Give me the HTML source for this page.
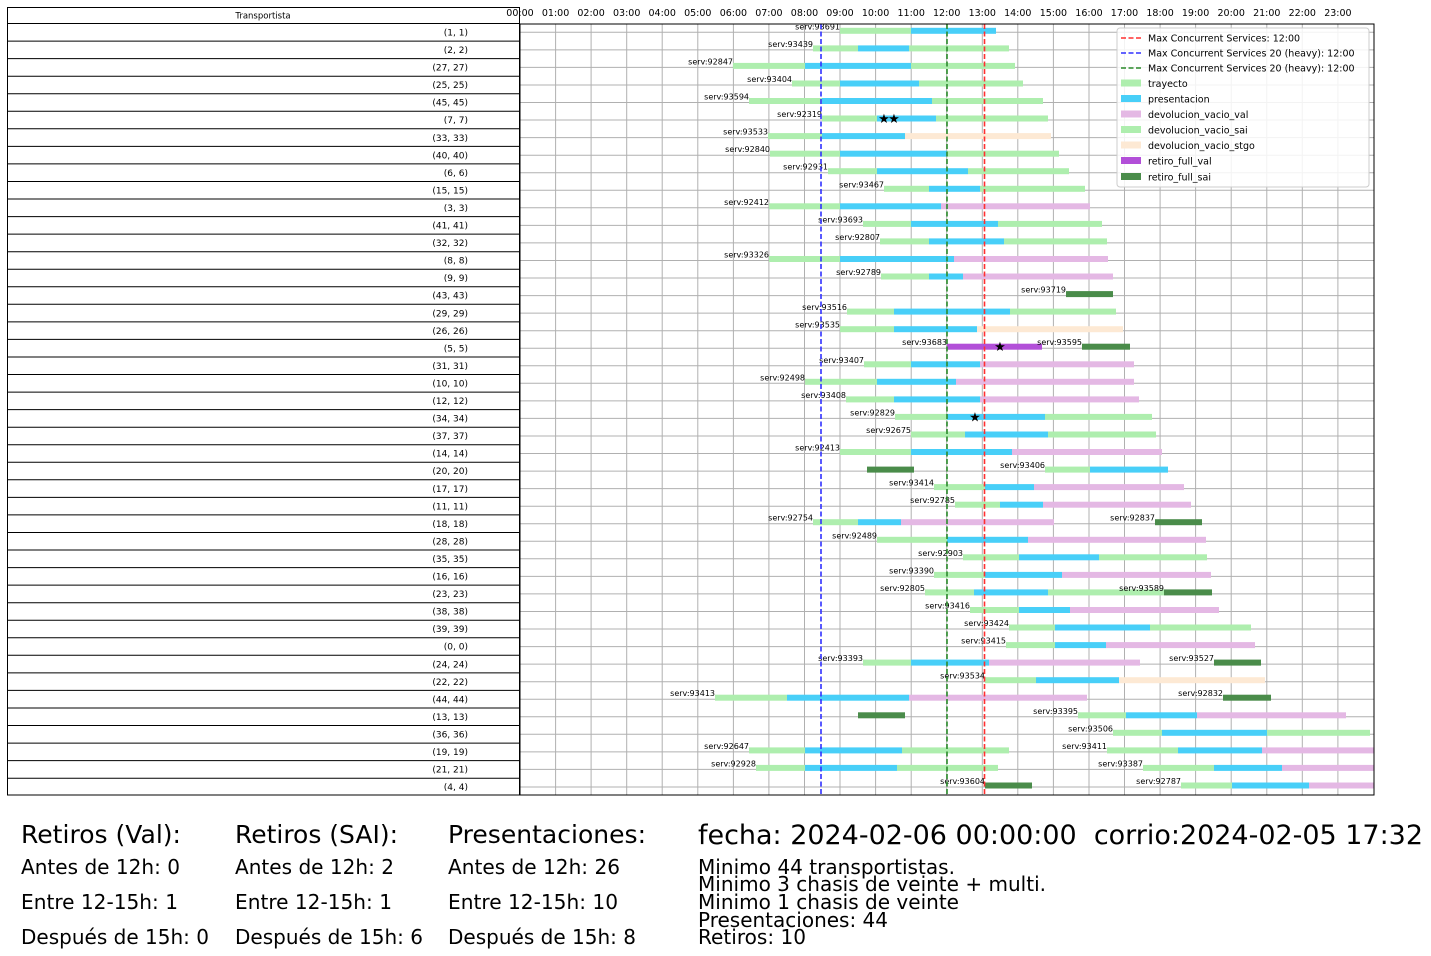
<!DOCTYPE html>
<html><head><meta charset="utf-8"><style>
html,body{margin:0;padding:0;background:#fff;}
svg{display:block;font-family:"DejaVu Sans","Liberation Sans",sans-serif;}
.g{fill:#aeeeae}.b{fill:#48cff8}.v{fill:#e4b8e4}.s{fill:#fde9d4}.p{fill:#b24fd8}.k{fill:#4a8c4a}
.l{font-size:8px;text-anchor:end}
.r{font-size:9px;text-anchor:end}
.t{font-size:9.5px;text-anchor:middle}
</style></head><body>
<svg width="1431" height="956" viewBox="0 0 1431 956" xmlns="http://www.w3.org/2000/svg">
<rect width="1431" height="956" fill="#fff"/>
<!-- grid -->
<g stroke="#b0b0b0" stroke-width="1">
<line x1="555.6" y1="24" x2="555.6" y2="795"/><line x1="591.1" y1="24" x2="591.1" y2="795"/><line x1="626.7" y1="24" x2="626.7" y2="795"/><line x1="662.2" y1="24" x2="662.2" y2="795"/><line x1="697.8" y1="24" x2="697.8" y2="795"/><line x1="733.4" y1="24" x2="733.4" y2="795"/><line x1="768.9" y1="24" x2="768.9" y2="795"/><line x1="804.5" y1="24" x2="804.5" y2="795"/><line x1="840" y1="24" x2="840" y2="795"/><line x1="875.6" y1="24" x2="875.6" y2="795"/><line x1="911.2" y1="24" x2="911.2" y2="795"/><line x1="946.7" y1="24" x2="946.7" y2="795"/><line x1="982.3" y1="24" x2="982.3" y2="795"/><line x1="1017.8" y1="24" x2="1017.8" y2="795"/><line x1="1053.4" y1="24" x2="1053.4" y2="795"/><line x1="1089" y1="24" x2="1089" y2="795"/><line x1="1124.5" y1="24" x2="1124.5" y2="795"/><line x1="1160.1" y1="24" x2="1160.1" y2="795"/><line x1="1195.6" y1="24" x2="1195.6" y2="795"/><line x1="1231.2" y1="24" x2="1231.2" y2="795"/><line x1="1266.8" y1="24" x2="1266.8" y2="795"/><line x1="1302.3" y1="24" x2="1302.3" y2="795"/><line x1="1337.9" y1="24" x2="1337.9" y2="795"/>
<line x1="520" y1="32.3" x2="1374" y2="32.3"/><line x1="520" y1="49.9" x2="1374" y2="49.9"/><line x1="520" y1="67.4" x2="1374" y2="67.4"/><line x1="520" y1="85" x2="1374" y2="85"/><line x1="520" y1="102.5" x2="1374" y2="102.5"/><line x1="520" y1="120" x2="1374" y2="120"/><line x1="520" y1="137.6" x2="1374" y2="137.6"/><line x1="520" y1="155.2" x2="1374" y2="155.2"/><line x1="520" y1="172.7" x2="1374" y2="172.7"/><line x1="520" y1="190.3" x2="1374" y2="190.3"/><line x1="520" y1="207.8" x2="1374" y2="207.8"/><line x1="520" y1="225.4" x2="1374" y2="225.4"/><line x1="520" y1="242.9" x2="1374" y2="242.9"/><line x1="520" y1="260.5" x2="1374" y2="260.5"/><line x1="520" y1="278" x2="1374" y2="278"/><line x1="520" y1="295.6" x2="1374" y2="295.6"/><line x1="520" y1="313.1" x2="1374" y2="313.1"/><line x1="520" y1="330.7" x2="1374" y2="330.7"/><line x1="520" y1="348.2" x2="1374" y2="348.2"/><line x1="520" y1="365.8" x2="1374" y2="365.8"/><line x1="520" y1="383.3" x2="1374" y2="383.3"/><line x1="520" y1="400.9" x2="1374" y2="400.9"/><line x1="520" y1="418.4" x2="1374" y2="418.4"/><line x1="520" y1="436" x2="1374" y2="436"/><line x1="520" y1="453.5" x2="1374" y2="453.5"/><line x1="520" y1="471.1" x2="1374" y2="471.1"/><line x1="520" y1="488.6" x2="1374" y2="488.6"/><line x1="520" y1="506.2" x2="1374" y2="506.2"/><line x1="520" y1="523.7" x2="1374" y2="523.7"/><line x1="520" y1="541.3" x2="1374" y2="541.3"/><line x1="520" y1="558.8" x2="1374" y2="558.8"/><line x1="520" y1="576.4" x2="1374" y2="576.4"/><line x1="520" y1="593.9" x2="1374" y2="593.9"/><line x1="520" y1="611.5" x2="1374" y2="611.5"/><line x1="520" y1="629" x2="1374" y2="629"/><line x1="520" y1="646.6" x2="1374" y2="646.6"/><line x1="520" y1="664.1" x2="1374" y2="664.1"/><line x1="520" y1="681.7" x2="1374" y2="681.7"/><line x1="520" y1="699.2" x2="1374" y2="699.2"/><line x1="520" y1="716.8" x2="1374" y2="716.8"/><line x1="520" y1="734.3" x2="1374" y2="734.3"/><line x1="520" y1="751.9" x2="1374" y2="751.9"/><line x1="520" y1="769.4" x2="1374" y2="769.4"/><line x1="520" y1="787" x2="1374" y2="787"/>
</g>
<!-- hour labels -->
<g font-size="9.5" text-anchor="middle" fill="#000">
<text x="520" y="16">00:00</text><text x="555.6" y="16">01:00</text><text x="591.1" y="16">02:00</text><text x="626.7" y="16">03:00</text><text x="662.2" y="16">04:00</text><text x="697.8" y="16">05:00</text><text x="733.4" y="16">06:00</text><text x="768.9" y="16">07:00</text><text x="804.5" y="16">08:00</text><text x="840" y="16">09:00</text><text x="875.6" y="16">10:00</text><text x="911.2" y="16">11:00</text><text x="946.7" y="16">12:00</text><text x="982.3" y="16">13:00</text><text x="1017.8" y="16">14:00</text><text x="1053.4" y="16">15:00</text><text x="1089" y="16">16:00</text><text x="1124.5" y="16">17:00</text><text x="1160.1" y="16">18:00</text><text x="1195.6" y="16">19:00</text><text x="1231.2" y="16">20:00</text><text x="1266.8" y="16">21:00</text><text x="1302.3" y="16">22:00</text><text x="1337.9" y="16">23:00</text>
</g>
<!-- bars -->
<g>
<g transform="translate(0,32.3)"><rect class="g" x="840" y="-4.5" width="71" height="6"/><rect class="b" x="911" y="-4.5" width="85" height="6"/><text class="l" x="840" y="-3">serv:93691</text></g>
<g transform="translate(0,49.9)"><rect class="g" x="813" y="-4.5" width="45" height="6"/><rect class="b" x="858" y="-4.5" width="51" height="6"/><rect class="g" x="909" y="-4.5" width="100" height="6"/><text class="l" x="813" y="-3">serv:93439</text></g>
<g transform="translate(0,67.4)"><rect class="g" x="733" y="-4.5" width="72" height="6"/><rect class="b" x="805" y="-4.5" width="106" height="6"/><rect class="g" x="911" y="-4.5" width="104" height="6"/><text class="l" x="733" y="-3">serv:92847</text></g>
<g transform="translate(0,85)"><rect class="g" x="792" y="-4.5" width="48" height="6"/><rect class="b" x="840" y="-4.5" width="79" height="6"/><rect class="g" x="919" y="-4.5" width="104" height="6"/><text class="l" x="792" y="-3">serv:93404</text></g>
<g transform="translate(0,102.5)"><rect class="g" x="749" y="-4.5" width="73" height="6"/><rect class="b" x="822" y="-4.5" width="110" height="6"/><rect class="g" x="932" y="-4.5" width="111" height="6"/><text class="l" x="749" y="-3">serv:93594</text></g>
<g transform="translate(0,120)"><rect class="g" x="822" y="-4.5" width="55" height="6"/><rect class="b" x="877" y="-4.5" width="59" height="6"/><rect class="g" x="936" y="-4.5" width="112" height="6"/><text class="l" x="822" y="-3">serv:92319</text><text x="884" y="3" font-size="13" text-anchor="middle">★</text><text x="894" y="3" font-size="13" text-anchor="middle">★</text></g>
<g transform="translate(0,137.6)"><rect class="g" x="768" y="-4.5" width="54" height="6"/><rect class="b" x="822" y="-4.5" width="83" height="6"/><rect class="s" x="905" y="-4.5" width="146" height="6"/><text class="l" x="768" y="-3">serv:93533</text></g>
<g transform="translate(0,155.2)"><rect class="g" x="770" y="-4.5" width="70" height="6"/><rect class="b" x="840" y="-4.5" width="107" height="6"/><rect class="g" x="947" y="-4.5" width="112" height="6"/><text class="l" x="770" y="-3">serv:92840</text></g>
<g transform="translate(0,172.7)"><rect class="g" x="828" y="-4.5" width="49" height="6"/><rect class="b" x="877" y="-4.5" width="91" height="6"/><rect class="g" x="968" y="-4.5" width="101" height="6"/><text class="l" x="828" y="-3">serv:92931</text></g>
<g transform="translate(0,190.3)"><rect class="g" x="884" y="-4.5" width="45" height="6"/><rect class="b" x="929" y="-4.5" width="51" height="6"/><rect class="g" x="980" y="-4.5" width="105" height="6"/><text class="l" x="884" y="-3">serv:93467</text></g>
<g transform="translate(0,207.8)"><rect class="g" x="769" y="-4.5" width="71" height="6"/><rect class="b" x="840" y="-4.5" width="101" height="6"/><rect class="v" x="941" y="-4.5" width="149" height="6"/><text class="l" x="769" y="-3">serv:92412</text></g>
<g transform="translate(0,225.4)"><rect class="g" x="863" y="-4.5" width="48" height="6"/><rect class="b" x="911" y="-4.5" width="87" height="6"/><rect class="g" x="998" y="-4.5" width="104" height="6"/><text class="l" x="863" y="-3">serv:93693</text></g>
<g transform="translate(0,242.9)"><rect class="g" x="880" y="-4.5" width="49" height="6"/><rect class="b" x="929" y="-4.5" width="75" height="6"/><rect class="g" x="1004" y="-4.5" width="103" height="6"/><text class="l" x="880" y="-3">serv:92807</text></g>
<g transform="translate(0,260.5)"><rect class="g" x="769" y="-4.5" width="71" height="6"/><rect class="b" x="840" y="-4.5" width="114" height="6"/><rect class="v" x="954" y="-4.5" width="154" height="6"/><text class="l" x="769" y="-3">serv:93326</text></g>
<g transform="translate(0,278)"><rect class="g" x="881" y="-4.5" width="48" height="6"/><rect class="b" x="929" y="-4.5" width="34" height="6"/><rect class="v" x="963" y="-4.5" width="150" height="6"/><text class="l" x="881" y="-3">serv:92789</text></g>
<g transform="translate(0,295.6)"><rect class="k" x="1066" y="-4.5" width="47" height="6"/><text class="l" x="1066" y="-3">serv:93719</text></g>
<g transform="translate(0,313.1)"><rect class="g" x="847" y="-4.5" width="47" height="6"/><rect class="b" x="894" y="-4.5" width="116" height="6"/><rect class="g" x="1010" y="-4.5" width="106" height="6"/><text class="l" x="847" y="-3">serv:93516</text></g>
<g transform="translate(0,330.7)"><rect class="g" x="840" y="-4.5" width="54" height="6"/><rect class="b" x="894" y="-4.5" width="83" height="6"/><rect class="s" x="977" y="-4.5" width="146" height="6"/><text class="l" x="840" y="-3">serv:93535</text></g>
<g transform="translate(0,348.2)"><rect class="p" x="947" y="-4.5" width="95" height="6"/><text class="l" x="947" y="-3">serv:93683</text><text x="1000" y="3" font-size="13" text-anchor="middle">★</text><rect class="k" x="1082" y="-4.5" width="48" height="6"/><text class="l" x="1082" y="-3">serv:93595</text></g>
<g transform="translate(0,365.8)"><rect class="g" x="864" y="-4.5" width="47" height="6"/><rect class="b" x="911" y="-4.5" width="69" height="6"/><rect class="v" x="980" y="-4.5" width="154" height="6"/><text class="l" x="864" y="-3">serv:93407</text></g>
<g transform="translate(0,383.3)"><rect class="g" x="805" y="-4.5" width="72" height="6"/><rect class="b" x="877" y="-4.5" width="79" height="6"/><rect class="v" x="956" y="-4.5" width="178" height="6"/><text class="l" x="805" y="-3">serv:92498</text></g>
<g transform="translate(0,400.9)"><rect class="g" x="846" y="-4.5" width="48" height="6"/><rect class="b" x="894" y="-4.5" width="86" height="6"/><rect class="v" x="980" y="-4.5" width="159" height="6"/><text class="l" x="846" y="-3">serv:93408</text></g>
<g transform="translate(0,418.4)"><rect class="g" x="895" y="-4.5" width="52" height="6"/><rect class="b" x="947" y="-4.5" width="98" height="6"/><rect class="g" x="1045" y="-4.5" width="107" height="6"/><text class="l" x="895" y="-3">serv:92829</text><text x="975" y="3" font-size="13" text-anchor="middle">★</text></g>
<g transform="translate(0,436)"><rect class="g" x="911" y="-4.5" width="54" height="6"/><rect class="b" x="965" y="-4.5" width="83" height="6"/><rect class="g" x="1048" y="-4.5" width="108" height="6"/><text class="l" x="911" y="-3">serv:92675</text></g>
<g transform="translate(0,453.5)"><rect class="g" x="840" y="-4.5" width="71" height="6"/><rect class="b" x="911" y="-4.5" width="101" height="6"/><rect class="v" x="1012" y="-4.5" width="150" height="6"/><text class="l" x="840" y="-3">serv:92413</text></g>
<g transform="translate(0,471.1)"><rect class="k" x="867" y="-4.5" width="47" height="6"/><rect class="g" x="1045" y="-4.5" width="45" height="6"/><rect class="b" x="1090" y="-4.5" width="78" height="6"/><text class="l" x="1045" y="-3">serv:93406</text></g>
<g transform="translate(0,488.6)"><rect class="g" x="934" y="-4.5" width="51" height="6"/><rect class="b" x="985" y="-4.5" width="49" height="6"/><rect class="v" x="1034" y="-4.5" width="150" height="6"/><text class="l" x="934" y="-3">serv:93414</text></g>
<g transform="translate(0,506.2)"><rect class="g" x="955" y="-4.5" width="45" height="6"/><rect class="b" x="1000" y="-4.5" width="43" height="6"/><rect class="v" x="1043" y="-4.5" width="148" height="6"/><text class="l" x="955" y="-3">serv:92785</text></g>
<g transform="translate(0,523.7)"><rect class="g" x="813" y="-4.5" width="45" height="6"/><rect class="b" x="858" y="-4.5" width="43" height="6"/><rect class="v" x="901" y="-4.5" width="153" height="6"/><text class="l" x="813" y="-3">serv:92754</text><rect class="k" x="1155" y="-4.5" width="47" height="6"/><text class="l" x="1155" y="-3">serv:92837</text></g>
<g transform="translate(0,541.3)"><rect class="g" x="877" y="-4.5" width="70" height="6"/><rect class="b" x="947" y="-4.5" width="81" height="6"/><rect class="v" x="1028" y="-4.5" width="178" height="6"/><text class="l" x="877" y="-3">serv:92489</text></g>
<g transform="translate(0,558.8)"><rect class="g" x="963" y="-4.5" width="56" height="6"/><rect class="b" x="1019" y="-4.5" width="80" height="6"/><rect class="g" x="1099" y="-4.5" width="108" height="6"/><text class="l" x="963" y="-3">serv:92903</text></g>
<g transform="translate(0,576.4)"><rect class="g" x="934" y="-4.5" width="51" height="6"/><rect class="b" x="985" y="-4.5" width="77" height="6"/><rect class="v" x="1062" y="-4.5" width="149" height="6"/><text class="l" x="934" y="-3">serv:93390</text></g>
<g transform="translate(0,593.9)"><rect class="g" x="925" y="-4.5" width="49" height="6"/><rect class="b" x="974" y="-4.5" width="74" height="6"/><rect class="g" x="1048" y="-4.5" width="116" height="6"/><text class="l" x="925" y="-3">serv:92805</text><rect class="k" x="1164" y="-4.5" width="48" height="6"/><text class="l" x="1164" y="-3">serv:93589</text></g>
<g transform="translate(0,611.5)"><rect class="g" x="970" y="-4.5" width="49" height="6"/><rect class="b" x="1019" y="-4.5" width="51" height="6"/><rect class="v" x="1070" y="-4.5" width="149" height="6"/><text class="l" x="970" y="-3">serv:93416</text></g>
<g transform="translate(0,629)"><rect class="g" x="1009" y="-4.5" width="46" height="6"/><rect class="b" x="1055" y="-4.5" width="95" height="6"/><rect class="g" x="1150" y="-4.5" width="101" height="6"/><text class="l" x="1009" y="-3">serv:93424</text></g>
<g transform="translate(0,646.6)"><rect class="g" x="1006" y="-4.5" width="49" height="6"/><rect class="b" x="1055" y="-4.5" width="51" height="6"/><rect class="v" x="1106" y="-4.5" width="149" height="6"/><text class="l" x="1006" y="-3">serv:93415</text></g>
<g transform="translate(0,664.1)"><rect class="g" x="863" y="-4.5" width="48" height="6"/><rect class="b" x="911" y="-4.5" width="78" height="6"/><rect class="v" x="989" y="-4.5" width="151" height="6"/><text class="l" x="863" y="-3">serv:93393</text><rect class="k" x="1214" y="-4.5" width="47" height="6"/><text class="l" x="1214" y="-3">serv:93527</text></g>
<g transform="translate(0,681.7)"><rect class="g" x="985" y="-4.5" width="51" height="6"/><rect class="b" x="1036" y="-4.5" width="83" height="6"/><rect class="s" x="1119" y="-4.5" width="146" height="6"/><text class="l" x="985" y="-3">serv:93534</text></g>
<g transform="translate(0,699.2)"><rect class="g" x="715" y="-4.5" width="72" height="6"/><rect class="b" x="787" y="-4.5" width="122" height="6"/><rect class="v" x="909" y="-4.5" width="178" height="6"/><text class="l" x="715" y="-3">serv:93413</text><rect class="k" x="1223" y="-4.5" width="48" height="6"/><text class="l" x="1223" y="-3">serv:92832</text></g>
<g transform="translate(0,716.8)"><rect class="k" x="858" y="-4.5" width="47" height="6"/><rect class="g" x="1078" y="-4.5" width="48" height="6"/><rect class="b" x="1126" y="-4.5" width="71" height="6"/><rect class="v" x="1197" y="-4.5" width="149" height="6"/><text class="l" x="1078" y="-3">serv:93395</text></g>
<g transform="translate(0,734.3)"><rect class="g" x="1113" y="-4.5" width="49" height="6"/><rect class="b" x="1162" y="-4.5" width="105" height="6"/><rect class="g" x="1267" y="-4.5" width="103" height="6"/><text class="l" x="1113" y="-3">serv:93506</text></g>
<g transform="translate(0,751.9)"><rect class="g" x="749" y="-4.5" width="56" height="6"/><rect class="b" x="805" y="-4.5" width="97" height="6"/><rect class="g" x="902" y="-4.5" width="107" height="6"/><text class="l" x="749" y="-3">serv:92647</text><rect class="g" x="1107" y="-4.5" width="71" height="6"/><rect class="b" x="1178" y="-4.5" width="84" height="6"/><rect class="v" x="1262" y="-4.5" width="112" height="6"/><text class="l" x="1107" y="-3">serv:93411</text></g>
<g transform="translate(0,769.4)"><rect class="g" x="756" y="-4.5" width="49" height="6"/><rect class="b" x="805" y="-4.5" width="92" height="6"/><rect class="g" x="897" y="-4.5" width="101" height="6"/><text class="l" x="756" y="-3">serv:92928</text><rect class="g" x="1143" y="-4.5" width="71" height="6"/><rect class="b" x="1214" y="-4.5" width="68" height="6"/><rect class="v" x="1282" y="-4.5" width="92" height="6"/><text class="l" x="1143" y="-3">serv:93387</text></g>
<g transform="translate(0,787)"><rect class="k" x="985" y="-4.5" width="47" height="6"/><text class="l" x="985" y="-3">serv:93604</text><rect class="g" x="1181" y="-4.5" width="51" height="6"/><rect class="b" x="1232" y="-4.5" width="77" height="6"/><rect class="v" x="1309" y="-4.5" width="65" height="6"/><text class="l" x="1181" y="-3">serv:92787</text></g>
</g>
<!-- dashed lines -->
<line x1="821" y1="24" x2="821" y2="795" stroke="#3030ff" stroke-width="1.6" stroke-dasharray="5,2.5"/>
<line x1="947" y1="24" x2="947" y2="795" stroke="#2a8a2a" stroke-width="1.6" stroke-dasharray="5,2.5"/>
<line x1="984.5" y1="24" x2="984.5" y2="795" stroke="#ff3030" stroke-width="1.6" stroke-dasharray="5,2.5"/>
<!-- frame -->
<rect x="520" y="24" width="854" height="771" fill="none" stroke="#000" stroke-width="1"/>
<!-- legend -->
<rect x="1117" y="28" width="252" height="159" rx="3" fill="#fff" fill-opacity="0.85" stroke="#ccc"/>
<g font-size="9.5">
<line x1="1121" y1="38" x2="1141" y2="38" stroke="#ff3030" stroke-width="1.6" stroke-dasharray="5,2.5"/><text x="1148" y="41.5">Max Concurrent Services: 12:00</text>
<line x1="1121" y1="53" x2="1141" y2="53" stroke="#3030ff" stroke-width="1.6" stroke-dasharray="5,2.5"/><text x="1148" y="56.5">Max Concurrent Services 20 (heavy): 12:00</text>
<line x1="1121" y1="68" x2="1141" y2="68" stroke="#2a8a2a" stroke-width="1.6" stroke-dasharray="5,2.5"/><text x="1148" y="71.5">Max Concurrent Services 20 (heavy): 12:00</text>
<rect class="g" x="1121" y="79.5" width="20" height="7"/><text x="1148" y="87">trayecto</text>
<rect class="b" x="1121" y="95" width="20" height="7"/><text x="1148" y="102.5">presentacion</text>
<rect class="v" x="1121" y="110.5" width="20" height="7"/><text x="1148" y="118">devolucion_vacio_val</text>
<rect class="g" x="1121" y="126" width="20" height="7"/><text x="1148" y="133.5">devolucion_vacio_sai</text>
<rect class="s" x="1121" y="141.5" width="20" height="7"/><text x="1148" y="149">devolucion_vacio_stgo</text>
<rect class="p" x="1121" y="157" width="20" height="7"/><text x="1148" y="164.5">retiro_full_val</text>
<rect class="k" x="1121" y="173" width="20" height="7"/><text x="1148" y="180.5">retiro_full_sai</text>
</g>
<!-- table -->
<g stroke="#000" stroke-width="1" fill="none">
<rect x="7.5" y="7.5" width="512" height="787.5"/>
<line x1="7" y1="23.5" x2="520" y2="23.5"/><line x1="7" y1="41.1" x2="520" y2="41.1"/><line x1="7" y1="58.6" x2="520" y2="58.6"/><line x1="7" y1="76.2" x2="520" y2="76.2"/><line x1="7" y1="93.7" x2="520" y2="93.7"/><line x1="7" y1="111.3" x2="520" y2="111.3"/><line x1="7" y1="128.8" x2="520" y2="128.8"/><line x1="7" y1="146.4" x2="520" y2="146.4"/><line x1="7" y1="163.9" x2="520" y2="163.9"/><line x1="7" y1="181.5" x2="520" y2="181.5"/><line x1="7" y1="199" x2="520" y2="199"/><line x1="7" y1="216.6" x2="520" y2="216.6"/><line x1="7" y1="234.1" x2="520" y2="234.1"/><line x1="7" y1="251.7" x2="520" y2="251.7"/><line x1="7" y1="269.2" x2="520" y2="269.2"/><line x1="7" y1="286.8" x2="520" y2="286.8"/><line x1="7" y1="304.3" x2="520" y2="304.3"/><line x1="7" y1="321.9" x2="520" y2="321.9"/><line x1="7" y1="339.4" x2="520" y2="339.4"/><line x1="7" y1="357" x2="520" y2="357"/><line x1="7" y1="374.5" x2="520" y2="374.5"/><line x1="7" y1="392.1" x2="520" y2="392.1"/><line x1="7" y1="409.6" x2="520" y2="409.6"/><line x1="7" y1="427.2" x2="520" y2="427.2"/><line x1="7" y1="444.7" x2="520" y2="444.7"/><line x1="7" y1="462.3" x2="520" y2="462.3"/><line x1="7" y1="479.8" x2="520" y2="479.8"/><line x1="7" y1="497.4" x2="520" y2="497.4"/><line x1="7" y1="514.9" x2="520" y2="514.9"/><line x1="7" y1="532.5" x2="520" y2="532.5"/><line x1="7" y1="550" x2="520" y2="550"/><line x1="7" y1="567.6" x2="520" y2="567.6"/><line x1="7" y1="585.1" x2="520" y2="585.1"/><line x1="7" y1="602.7" x2="520" y2="602.7"/><line x1="7" y1="620.2" x2="520" y2="620.2"/><line x1="7" y1="637.8" x2="520" y2="637.8"/><line x1="7" y1="655.3" x2="520" y2="655.3"/><line x1="7" y1="672.9" x2="520" y2="672.9"/><line x1="7" y1="690.4" x2="520" y2="690.4"/><line x1="7" y1="708" x2="520" y2="708"/><line x1="7" y1="725.5" x2="520" y2="725.5"/><line x1="7" y1="743.1" x2="520" y2="743.1"/><line x1="7" y1="760.6" x2="520" y2="760.6"/><line x1="7" y1="778.2" x2="520" y2="778.2"/>
</g>
<text x="263" y="18.5" font-size="8.5" text-anchor="middle">Transportista</text>
<g class="r">
<text class="r" x="468" y="35.5">(1, 1)</text><text class="r" x="468" y="53">(2, 2)</text><text class="r" x="468" y="70.6">(27, 27)</text><text class="r" x="468" y="88.1">(25, 25)</text><text class="r" x="468" y="105.7">(45, 45)</text><text class="r" x="468" y="123.2">(7, 7)</text><text class="r" x="468" y="140.8">(33, 33)</text><text class="r" x="468" y="158.3">(40, 40)</text><text class="r" x="468" y="175.9">(6, 6)</text><text class="r" x="468" y="193.4">(15, 15)</text><text class="r" x="468" y="211">(3, 3)</text><text class="r" x="468" y="228.5">(41, 41)</text><text class="r" x="468" y="246.1">(32, 32)</text><text class="r" x="468" y="263.6">(8, 8)</text><text class="r" x="468" y="281.2">(9, 9)</text><text class="r" x="468" y="298.7">(43, 43)</text><text class="r" x="468" y="316.3">(29, 29)</text><text class="r" x="468" y="333.8">(26, 26)</text><text class="r" x="468" y="351.4">(5, 5)</text><text class="r" x="468" y="368.9">(31, 31)</text><text class="r" x="468" y="386.5">(10, 10)</text><text class="r" x="468" y="404">(12, 12)</text><text class="r" x="468" y="421.6">(34, 34)</text><text class="r" x="468" y="439.1">(37, 37)</text><text class="r" x="468" y="456.7">(14, 14)</text><text class="r" x="468" y="474.2">(20, 20)</text><text class="r" x="468" y="491.8">(17, 17)</text><text class="r" x="468" y="509.3">(11, 11)</text><text class="r" x="468" y="526.9">(18, 18)</text><text class="r" x="468" y="544.4">(28, 28)</text><text class="r" x="468" y="562">(35, 35)</text><text class="r" x="468" y="579.5">(16, 16)</text><text class="r" x="468" y="597.1">(23, 23)</text><text class="r" x="468" y="614.6">(38, 38)</text><text class="r" x="468" y="632.2">(39, 39)</text><text class="r" x="468" y="649.7">(0, 0)</text><text class="r" x="468" y="667.3">(24, 24)</text><text class="r" x="468" y="684.8">(22, 22)</text><text class="r" x="468" y="702.4">(44, 44)</text><text class="r" x="468" y="719.9">(13, 13)</text><text class="r" x="468" y="737.5">(36, 36)</text><text class="r" x="468" y="755">(19, 19)</text><text class="r" x="468" y="772.6">(21, 21)</text><text class="r" x="468" y="790.1">(4, 4)</text>
</g>
<!-- bottom text -->
<g fill="#000">
<text x="21" y="843" font-size="25" textLength="160" lengthAdjust="spacingAndGlyphs">Retiros (Val):</text>
<text x="21" y="874" font-size="20" textLength="159" lengthAdjust="spacingAndGlyphs">Antes de 12h: 0</text>
<text x="21" y="909" font-size="20" textLength="157" lengthAdjust="spacingAndGlyphs">Entre 12-15h: 1</text>
<text x="21" y="944" font-size="20" textLength="188" lengthAdjust="spacingAndGlyphs">Después de 15h: 0</text>
<text x="235" y="843" font-size="25" textLength="163" lengthAdjust="spacingAndGlyphs">Retiros (SAI):</text>
<text x="235" y="874" font-size="20" textLength="159" lengthAdjust="spacingAndGlyphs">Antes de 12h: 2</text>
<text x="235" y="909" font-size="20" textLength="157" lengthAdjust="spacingAndGlyphs">Entre 12-15h: 1</text>
<text x="235" y="944" font-size="20" textLength="188" lengthAdjust="spacingAndGlyphs">Después de 15h: 6</text>
<text x="448" y="843" font-size="25" textLength="198" lengthAdjust="spacingAndGlyphs">Presentaciones:</text>
<text x="448" y="874" font-size="20" textLength="172" lengthAdjust="spacingAndGlyphs">Antes de 12h: 26</text>
<text x="448" y="909" font-size="20" textLength="170" lengthAdjust="spacingAndGlyphs">Entre 12-15h: 10</text>
<text x="448" y="944" font-size="20" textLength="188" lengthAdjust="spacingAndGlyphs">Después de 15h: 8</text>
<text x="698" y="844" font-size="27" textLength="725" lengthAdjust="spacingAndGlyphs" xml:space="preserve">fecha: 2024-02-06 00:00:00  corrio:2024-02-05 17:32</text>
<text x="698" y="874" font-size="20" textLength="257" lengthAdjust="spacingAndGlyphs">Minimo 44 transportistas.</text>
<text x="698" y="891" font-size="20" textLength="348" lengthAdjust="spacingAndGlyphs">Minimo 3 chasis de veinte + multi.</text>
<text x="698" y="909" font-size="20" textLength="261" lengthAdjust="spacingAndGlyphs">Minimo 1 chasis de veinte</text>
<text x="698" y="927" font-size="20" textLength="190" lengthAdjust="spacingAndGlyphs">Presentaciones: 44</text>
<text x="698" y="944" font-size="20" textLength="108" lengthAdjust="spacingAndGlyphs">Retiros: 10</text>
</g>
</svg>
</body></html>
